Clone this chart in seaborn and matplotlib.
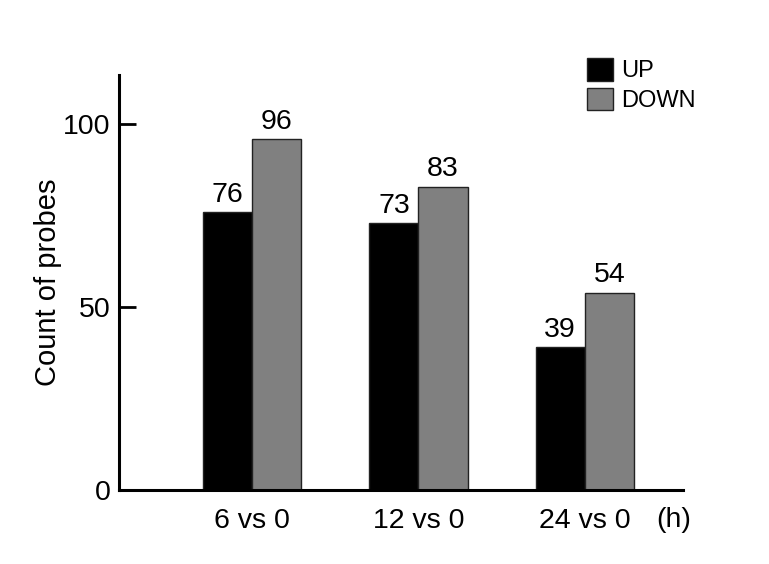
import pandas as pd
import matplotlib
matplotlib.use("Agg")
import matplotlib.pyplot as plt
import seaborn as sns

# Data
comparisons = ["6 vs 0", "12 vs 0", "24 vs 0"]
up_counts = [76, 73, 39]
down_counts = [96, 83, 54]
directions = ["UP", "DOWN"]
colors = ["#000000", "#808080"]

df = pd.DataFrame({
    "comparison": comparisons * 2,
    "direction": ["UP"] * 3 + ["DOWN"] * 3,
    "count": up_counts + down_counts,
})

sns.set_style("ticks")
plt.rcParams["font.family"] = ["Liberation Sans", "DejaVu Sans"]
plt.rcParams["text.color"] = "black"
plt.rcParams["axes.labelcolor"] = "black"
plt.rcParams["xtick.color"] = "black"
plt.rcParams["ytick.color"] = "black"

fig = plt.figure(figsize=(7.69, 5.64), dpi=100)
ax = fig.add_axes([0.1547, 0.1312, 0.7334, 0.7358])

sns.barplot(data=df, x="comparison", y="count", hue="direction",
            hue_order=directions, palette=colors, width=0.59,
            edgecolor="#222222", linewidth=1, ax=ax, legend=True)

for cont in ax.containers:
    ax.bar_label(cont, fontsize=20.5, padding=3)

ax.set_xlim(-0.80, 2.59)
ax.set_ylim(0, 113.5)
ax.set_yticks([0, 50, 100])
ax.set_xlabel("")
ax.set_ylabel("Count of probes", fontsize=21, labelpad=1)

ax.tick_params(axis="y", direction="in", length=12, width=2, labelsize=20.5, pad=6)
ax.tick_params(axis="x", length=0, labelsize=20.5, pad=13)

for side in ["top", "right"]:
    ax.spines[side].set_visible(False)
for side in ["left", "bottom"]:
    ax.spines[side].set_linewidth(2.2)
    ax.spines[side].set_color("black")

# legend in the upper right corner
handles, labels = ax.get_legend_handles_labels()
ax.legend(handles, labels, loc="upper left", bbox_to_anchor=(0.763, 0.897),
          bbox_transform=fig.transFigure, frameon=False, fontsize=17,
          handlelength=1.1, handleheight=1.1, handletextpad=0.35,
          labelspacing=0.22, borderpad=0, borderaxespad=0)

fig.text(674 / 769, 1 - 520 / 564, "(h)", fontsize=20.5, ha="center", va="center")

fig.savefig("out.png", dpi=100)
